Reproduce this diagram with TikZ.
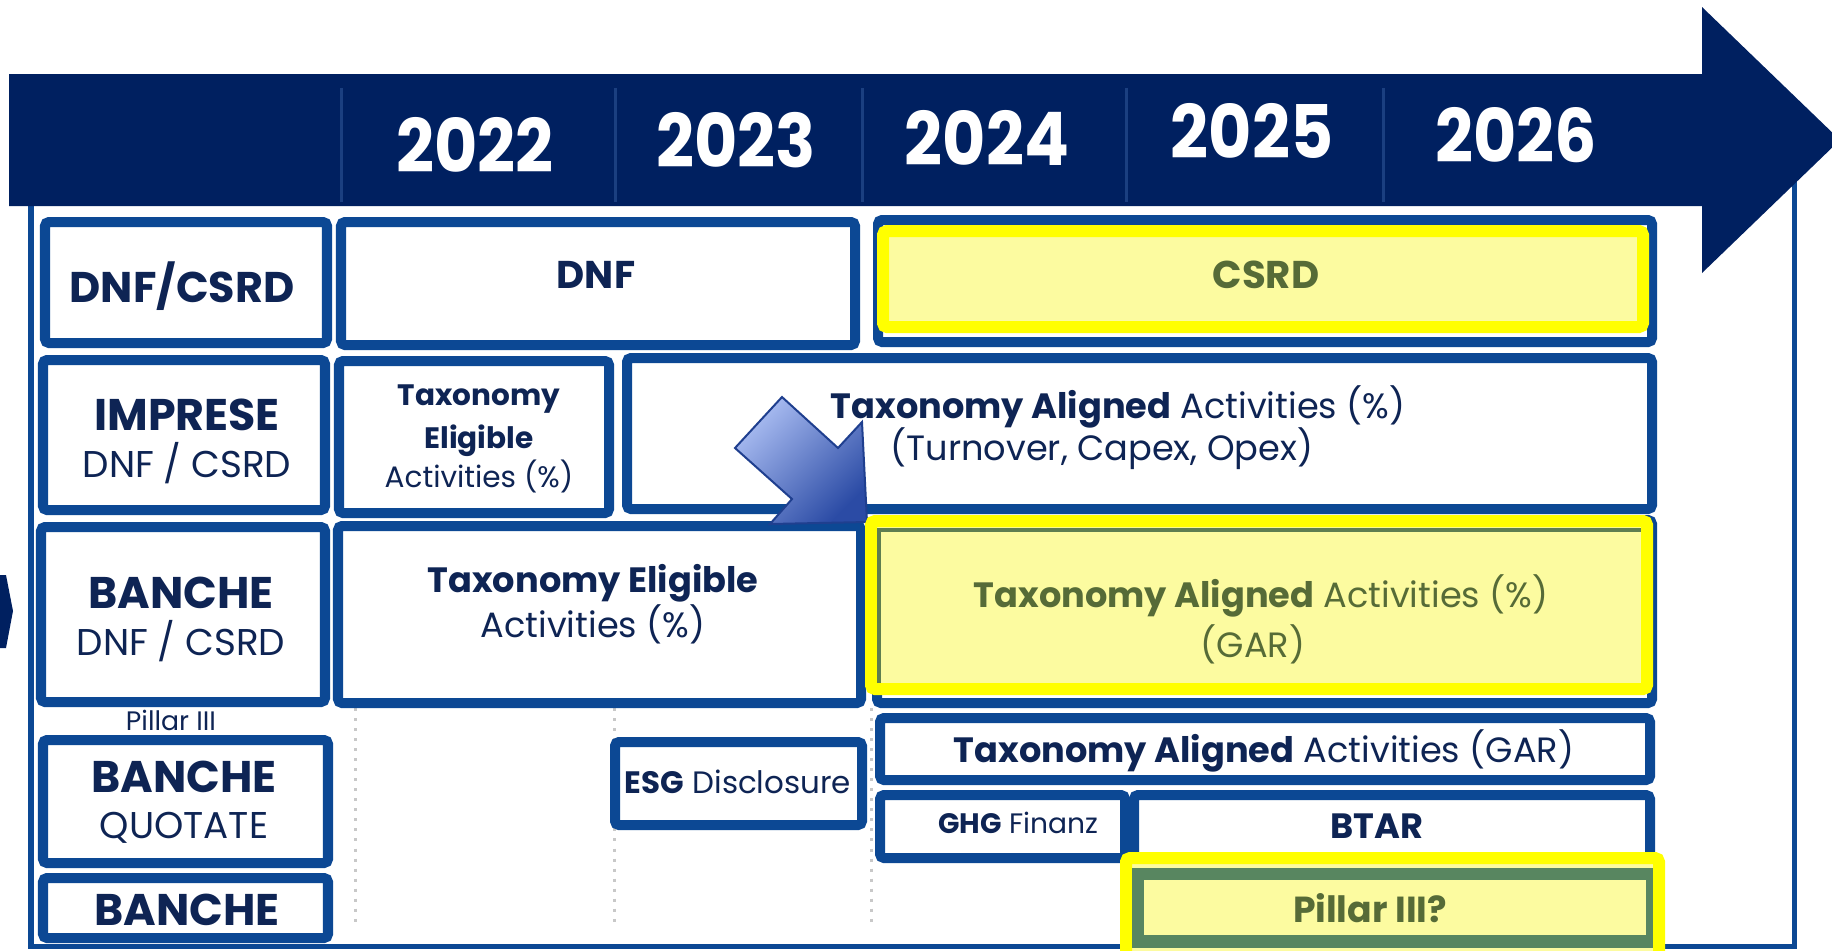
\documentclass[tikz,border=0pt]{standalone}
\usepackage{fontspec}
\setmainfont{Poppins}
\usepackage{tikz}

\definecolor{navyband}{HTML}{002060}
\definecolor{boxblue}{HTML}{0C4894}
\definecolor{sepblue}{HTML}{1B3F80}
\definecolor{navytext}{HTML}{0E2454}
\definecolor{hlyellow}{HTML}{FFFF00}
\definecolor{paleyellow}{HTML}{FCFBA0}
\definecolor{olivetext}{HTML}{566B37}
\definecolor{oliveline}{HTML}{5E7E50}
\definecolor{pillgreen}{HTML}{588660}
\definecolor{arrowlight}{HTML}{AABDF2}
\definecolor{arrowdark}{HTML}{2B4BA5}
\definecolor{arrowedge}{HTML}{1F3F8F}
\definecolor{gridgray}{HTML}{C8C8C8}

\begin{document}
\begin{tikzpicture}[x=0.01cm, y=-0.01cm,
	box/.style={draw=boxblue, line width=1mm, fill=white, rounded corners=0.4mm},
	hlbox/.style={draw=hlyellow, line width=1.2mm, fill=paleyellow, rounded corners=0.4mm},
	sepline/.style={draw=sepblue, line width=0.3mm},
	yearlbl/.style={text=white, font=\fontsize{21}{25}\selectfont\bfseries, anchor=base, inner sep=0pt},
	lbl/.style={text=navytext, anchor=base, inner sep=0pt},
	hltext/.style={text=olivetext, anchor=base, inner sep=0pt},
	headfont/.style={font=\fontsize{12.6}{15}\selectfont\bfseries},
	subfont/.style={font=\fontsize{10.6}{13}\selectfont},
	cellfont/.style={font=\fontsize{10}{12}\selectfont}]
		% 背景与外框
		\path[use as bounding box, fill=white] (0,0) rectangle (1832,950);
		\draw[boxblue, line width=0.5mm] (31,150) rectangle (1794,946);
		% 绘制时间轴箭头
		\fill[navyband] (9,74) -- (1702,74) -- (1702,7) -- (1840,140) -- (1702,273)
			-- (1702,206) -- (9,206) -- cycle;
		\foreach \sx in {341,615,862,1126,1383}
			\draw[sepline] (\sx,88) -- (\sx,202);
		% 年份
		\foreach \yr/\cx/\by in {2022/475/172,2023/736/167,2024/987/165,2025/1252/158,2026/1516/162}
			\node[yearlbl] (y\yr) at (\cx,\by) {\scalebox{0.9}[1]{\yr}};
		% 左侧箭头
		\fill[navyband] (0,575) -- (6,575) -- (13,611) -- (6,648) -- (0,648) -- cycle;
		% 虚线
		\foreach \gx in {355,614,871}
			\draw[gridgray, dotted, line width=0.3mm] (\gx,708) -- (\gx,925);
		% 第一行
		\draw[box] (45,222) rectangle (327,343);
		\draw[box] (341,222) rectangle (855,345);
		\draw[box] (878,220) rectangle (1652,342);
		\draw[hlbox] (883,231) rectangle (1643,327);
		% 第二行
		\draw[box] (43,360) rectangle (325,510);
		\draw[box] (339,361) rectangle (609,513);
		\draw[box] (627,358) rectangle (1652,509);
		% 第三行
		\draw[box] (41,527) rectangle (325,702);
		\draw[box] (338,526) rectangle (861,703);
		\draw[box] (877,520) rectangle (1652,703);
		% 蓝色箭头
		\shadedraw[draw=arrowedge, line width=0.2mm, top color=arrowlight, bottom color=arrowdark,
			shading angle=45] (735,448) -- (782,397) -- (838,448) -- (862,422) -- (867,522)
			-- (770,524) -- (792,499) -- cycle;
		\draw[hlbox] (871,521) rectangle (1647,689);
		\draw[oliveline, line width=0.4mm] (879,683) -- (879,530) -- (1641,530);
		% 下方各行
		\draw[box] (43,740) rectangle (328,863);
		\draw[box] (43,878) rectangle (328,938);
		\draw[box] (615,742) rectangle (862,825);
		\draw[box] (880,718) rectangle (1650,780);
		\draw[box] (880,795) rectangle (1125,858);
		\draw[box] (1134,795) rectangle (1650,870);
		\draw[hlbox] (1126,858) rectangle (1659,965);
		\fill[pillgreen] (1132,868) rectangle (1653,948);
		\fill[paleyellow] (1144,880) rectangle (1646,935);
		% 行标题
		\node[lbl, font=\fontsize{12.2}{15}\selectfont\bfseries] (hdnf) at (182,302) {DNF/CSRD};
		\node[lbl, headfont] (himp) at (187,430) {IMPRESE};
		\node[lbl, subfont] (himpsub) at (187,477) {DNF / CSRD};
		\node[lbl, headfont] (hban) at (181,608) {BANCHE};
		\node[lbl, subfont] (hbansub) at (181,655) {DNF / CSRD};
		\node[lbl, font=\fontsize{7.6}{10}\selectfont] (hpil) at (171,730) {Pillar III};
		\node[lbl, headfont] (hquo) at (184,792) {BANCHE};
		\node[lbl, subfont] (hquosub) at (184,838) {QUOTATE};
		\node[lbl, headfont] (hban2) at (187,925) {BANCHE};
		% 单元格文字
		\node[lbl, font=\fontsize{11}{13}\selectfont\bfseries] (dnf) at (596,288) {DNF};
		\node[hltext, font=\fontsize{11}{13}\selectfont\bfseries] (csrd) at (1266,288) {CSRD};
		\node[lbl, font=\fontsize{8.4}{10}\selectfont\bfseries] (ielig1) at (479,405) {Taxonomy};
		\node[lbl, font=\fontsize{8.4}{10}\selectfont\bfseries] (ielig2) at (479,448) {Eligible};
		\node[lbl, font=\fontsize{8.4}{10}\selectfont] (ielig3) at (479,487) {Activities (\%)};
		\node[lbl, cellfont] (ialig1) at (1118,418) {\textbf{Taxonomy Aligned} Activities (\%)};
		\node[lbl, cellfont] (ialig2) at (1102,460) {(Turnover, Capex, Opex)};
		\node[lbl, cellfont] (belig1) at (593,592) {\textbf{Taxonomy Eligible}};
		\node[lbl, cellfont] (belig2) at (593,637) {Activities (\%)};
		\node[hltext, cellfont] (gar1) at (1261,607) {\textbf{Taxonomy Aligned} Activities (\%)};
		\node[hltext, cellfont] (gar2) at (1253,657) {(GAR)};
		\node[lbl, cellfont] (garln) at (1264,762) {\textbf{Taxonomy Aligned} Activities (GAR)};
		\node[lbl, font=\fontsize{8.8}{11}\selectfont] (esg) at (738,793) {\textbf{ESG} Disclosure};
		\node[lbl, font=\fontsize{8}{10}\selectfont] (ghg) at (1018,833) {\textbf{GHG} Finanz};
		\node[lbl, font=\fontsize{10}{12}\selectfont\bfseries] (btar) at (1377,838) {BTAR};
		\node[hltext, font=\fontsize{10.3}{13}\selectfont\bfseries] (pil) at (1370,922) {Pillar III?};
\end{tikzpicture}
\end{document}
